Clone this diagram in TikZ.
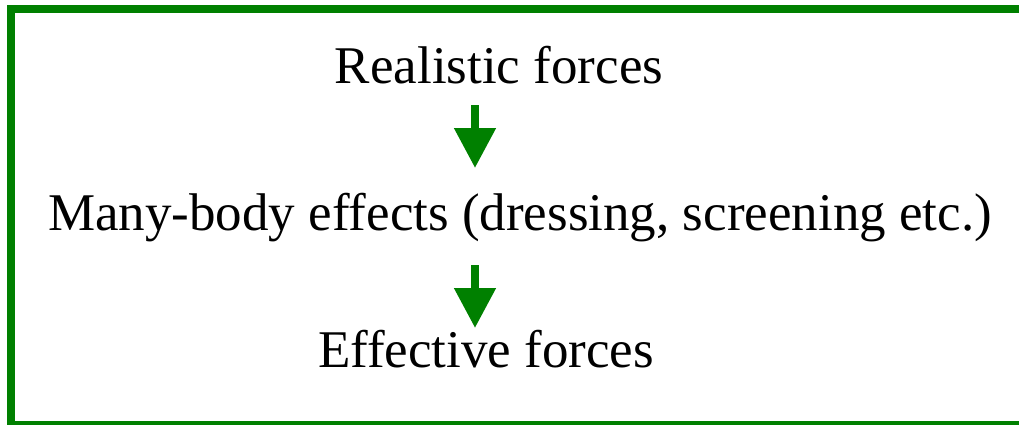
\documentclass[tikz,border=0pt]{standalone}
\usepackage{fontspec}
\setmainfont{Liberation Serif}
\usetikzlibrary{arrows.meta}
\definecolor{frame}{RGB}{0,128,0}
\begin{document}
\begin{tikzpicture}[x=1pt,y=-1pt,
  label/.style={anchor=base,inner sep=0pt,font=\fontsize{53}{60}\selectfont},
  flow/.style={draw=frame,line width=8pt,-{Triangle[length=40pt,width=40pt]}}]
\useasboundingbox (0,0) rectangle (1019,424);
\draw[frame,line width=8pt] (11,428) -- (11,9) -- (1030,9);
\draw[frame,line width=8pt] (7,424.5) -- (1030,424.5);
\node[label] (real) at (499,83) {Realistic forces};
\node[label] (many) at (520,230) {Many-body effects (dressing, screening etc.)};
\node[label] (eff) at (486,367) {Effective forces};
\coordinate (a1s) at (475,105);
\coordinate (a1e) at (475,168);
\coordinate (a2s) at (475,265);
\coordinate (a2e) at (475,328);
\draw[flow] (a1s) -- (a1e);
\draw[flow] (a2s) -- (a2e);
\end{tikzpicture}
\end{document}
